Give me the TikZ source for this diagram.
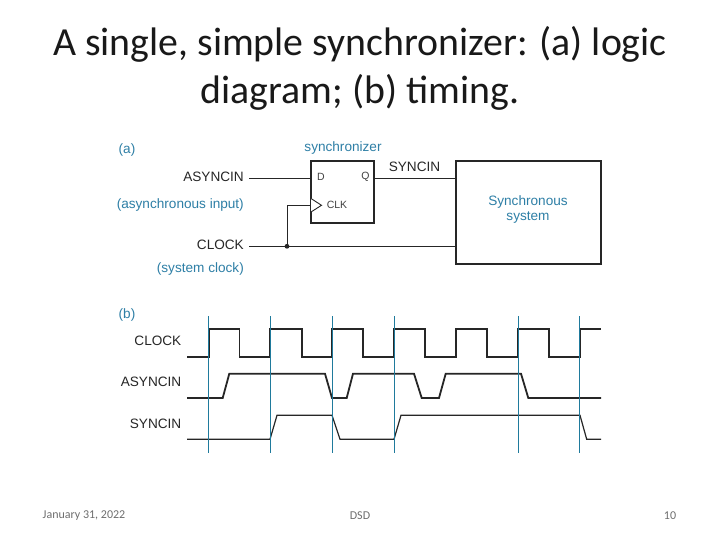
\documentclass[tikz,border=0pt]{standalone}
\usepackage{fontspec}
\setmainfont{Liberation Sans}
\newfontfamily\slidefont{Carlito}
\definecolor{labelblue}{HTML}{2E7FA6}
\definecolor{edgeblue}{HTML}{1F7A9C}
\definecolor{footgray}{HTML}{6E6E6E}
\tikzset{
  blockbox/.style={draw=black!85,line width=2.2pt,inner sep=0pt,outer sep=0pt},
  wirelabel/.style={font=\fontsize{13.6}{15}\selectfont,text=black!85,inner sep=0pt},
  notelabel/.style={font=\fontsize{13.6}{15}\selectfont,text=labelblue,inner sep=0pt},
  pinlabel/.style={font=\fontsize{10.5}{12}\selectfont,text=black!75,inner sep=0pt},
  titleline/.style={font=\slidefont\fontsize{39.8}{44}\selectfont,text=black!90,inner sep=0pt},
  footlabel/.style={font=\slidefont\fontsize{12}{14}\selectfont,text=footgray,inner sep=0pt},
  wire/.style={draw=black!85,line width=0.9pt},
  edgeline/.style={draw=edgeblue,line width=0.8pt},
  clockwave/.style={draw=black!85,line width=1.6pt},
  asyncwave/.style={draw=black!85,line width=1.8pt},
  syncwave/.style={draw=black!85,line width=1.2pt}
}
\begin{document}
\begin{tikzpicture}[x=1pt,y=-1pt]
\useasboundingbox[fill=white] (0,0) rectangle (720,540);
% slide title and footer
\draw (360,44.5) node[titleline](titleone) {A single, simple synchronizer: (a) logic};
\draw (360,92.5) node[titleline](titletwo) {diagram; (b) timing.};
\draw (84,516) node[footlabel](footdate) {January 31, 2022};
\draw (360,516) node[footlabel](footname) {DSD};
\draw (670,516) node[footlabel](footpage) {10};
% logic diagram
\draw (342.4,191.8) node[blockbox,minimum width=63.5pt,minimum height=61.7pt](synchronizer) {};
\draw (528.4,212.5) node[blockbox,minimum width=144.7pt,minimum height=103pt](system) {};
\draw (528,209) node[notelabel,align=center](systemlabel) {Synchronous\\system};
\draw (127,149.5) node[notelabel](parta) {(a)};
\draw (343,147.5) node[notelabel](synclabel) {synchronizer};
\draw (244,176.5) node[wirelabel,anchor=east](asyncinlabel) {ASYNCIN};
\draw (244,205) node[notelabel,anchor=east](asyncnote) {(asynchronous input)};
\draw (244,245) node[wirelabel,anchor=east](clocklabel) {CLOCK};
\draw (244,268.5) node[notelabel,anchor=east](clocknote) {(system clock)};
\draw (414.5,167) node[wirelabel](syncinlabel) {SYNCIN};
\draw (321,177) node[pinlabel](dpin) {D};
\draw (365.5,177) node[pinlabel](qpin) {Q};
\draw (337,204.5) node[pinlabel](clkpin) {CLK};
\coordinate (asyncinend) at (249,178.3);
\coordinate (clockend) at (249,246.3);
\coordinate (clockdot) at (287,246.3);
\coordinate (clockturn) at (287,205.3);
\coordinate (clockin) at (311,205.3);
\coordinate (syncinstart) at (374,178.3);
\draw[wire] (asyncinend) -- (asyncinend -| synchronizer.west);
\draw[wire] (syncinstart) -- (syncinstart -| system.west);
\draw[wire] (clockend) -- (clockend -| system.west);
\draw[wire] (clockdot) -- (clockturn) -- (clockin);
\fill[black!85] (clockdot) circle (2.4pt);
\draw[wire,fill=white] (311,198.5) -- (321.5,205.3) -- (311,212);
% timing diagram
\draw (127,314.5) node[notelabel](partb) {(b)};
\draw (181.5,341) node[wirelabel,anchor=east](clockwavelabel) {CLOCK};
\draw (181.5,382) node[wirelabel,anchor=east](asyncwavelabel) {ASYNCIN};
\draw (181.5,423.5) node[wirelabel,anchor=east](syncwavelabel) {SYNCIN};
\draw[clockwave] (187,357) -- (209,357) -- (209,329) -- (239.5,329) -- (239.5,357) -- (270,357) -- (270,329) -- (302,329) -- (302,357) -- (332,357) -- (332,329) -- (363,329) -- (363,357) -- (394,357) -- (394,329) -- (425,329) -- (425,357) -- (456,357) -- (456,329) -- (487,329) -- (487,357) -- (518,357) -- (518,329) -- (549,329) -- (549,357) -- (580,357) -- (580,329) -- (601,329);
\draw[asyncwave] (187,398) -- (222.7,398) -- (229.3,373.7) -- (325,373.7) -- (332,398) -- (346.7,398) -- (353,373.7) -- (414,373.7) -- (421.7,398) -- (439,398) -- (445.7,373.7) -- (521,373.7) -- (528.3,398) -- (601,398);
\draw[syncwave] (187,439.3) -- (270,439.3) -- (277,415.3) -- (332,415.3) -- (340,439.3) -- (394,439.3) -- (401,415.3) -- (580,415.3) -- (586.7,439.3) -- (601,439.3);
\draw[edgeline] (208.7,316) -- (208.7,453);
\draw[edgeline] (270.3,316) -- (270.3,453);
\draw[edgeline] (332.3,316) -- (332.3,453);
\draw[edgeline] (394,316) -- (394,453);
\draw[edgeline] (518.5,316) -- (518.5,453);
\draw[edgeline] (579.5,316) -- (579.5,453);
\end{tikzpicture}
\end{document}
